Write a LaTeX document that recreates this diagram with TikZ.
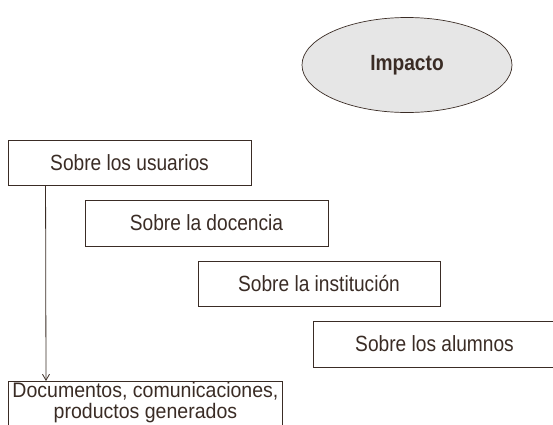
\documentclass[tikz,border=0pt]{standalone}
\usepackage{fontspec}
\setmainfont[FakeStretch=0.87]{Liberation Sans}
\newfontfamily\ancha[FakeStretch=0.93]{Liberation Sans}
\usetikzlibrary{shapes.geometric,arrows.meta}
\definecolor{ink}{HTML}{3A2C25}
\definecolor{oval}{HTML}{E6E6E6}
\tikzset{
  caja/.style={draw=ink, line width=0.9pt, rectangle, minimum width=243pt, minimum height=45pt, inner sep=0pt, text=ink},
}
\begin{document}
\begin{tikzpicture}[x=1pt,y=-1pt]
            \useasboundingbox (0,0) rectangle (553,424);
            \clip (0,0) rectangle (553,424);
            \fontsize{22}{22}\selectfont

            \node[ellipse, draw=ink, fill=oval, line width=0.7pt, minimum width=210pt, minimum height=95pt, text=ink] (impacto) at (407,65) {\textbf{Impacto}};

            \node[caja] (usuarios) at (129.5,162.5) {Sobre los usuarios};
            \node[caja, minimum height=46pt] (docencia) at (206.5,223) {Sobre la docencia};
            \node[caja, minimum width=242pt] (institucion) at (319,283.5) {Sobre la instituci\'on};
            \node[caja, minimum height=46pt] (alumnos) at (434.5,344) {Sobre los alumnos};

            \node[caja, minimum width=274pt, anchor=north west, inner ysep=1pt, align=center, font=\ancha\fontsize{21}{21}\selectfont] (docs) at (8,381) {Documentos, comunicaciones,\\productos generados\\[4pt]};

            \draw[ink, line width=0.8pt, -{Straight Barb[length=6pt,width=7pt]}] ([xshift=38pt]usuarios.south west) -- ([xshift=38pt]docs.north west);
        \end{tikzpicture}
\end{document}
